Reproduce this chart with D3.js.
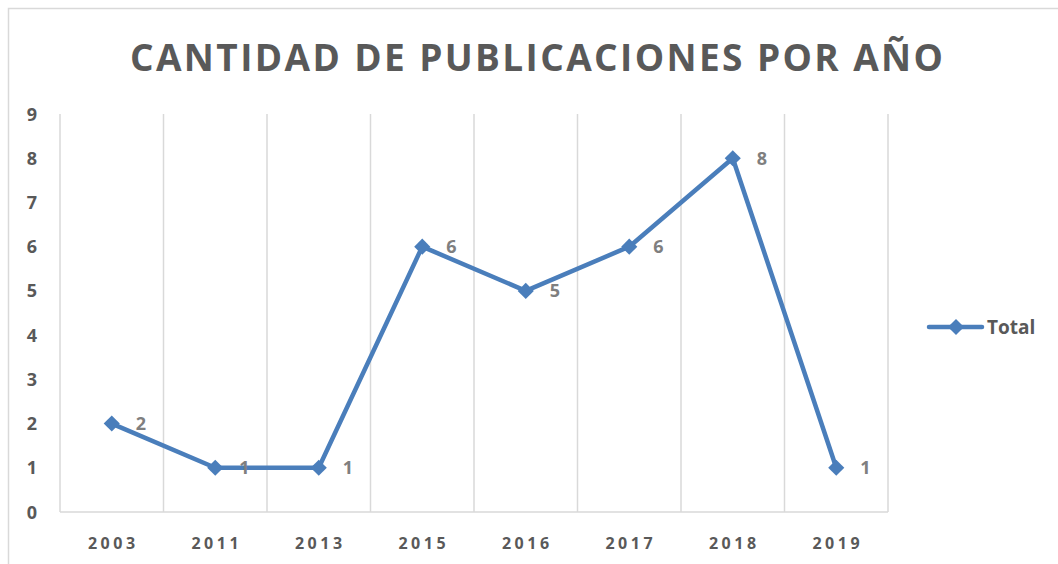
<!DOCTYPE html>
<html>
<head>
<meta charset="utf-8">
<script src="https://cdn.jsdelivr.net/npm/d3@7"></script>
<style>
  body { margin: 0; background: #fff; }
  text { font-family: "Open Sans", "Liberation Sans", sans-serif; font-weight: bold; }
</style>
</head>
<body>
<script>
// chart data
const years = ["2003", "2011", "2013", "2015", "2016", "2017", "2018", "2019"];
const totals = [2, 1, 1, 6, 5, 6, 8, 1];
const yTicks = [0, 1, 2, 3, 4, 5, 6, 7, 8, 9];
const seriesName = "Total";
const title = "CANTIDAD DE PUBLICACIONES POR AÑO";

const width = 1058, height = 564,
      plot = {left: 60, right: 888, top: 114, bottom: 512},
      blue = "#4a7ebb", grey = "#595959";

const svg = d3.select("body").append("svg")
              .attr("width", width)
              .attr("height", height);

// chart frame
svg.append("rect")
   .attr("x", 8.5).attr("y", 8.5)
   .attr("width", width + 20).attr("height", height + 20)
   .attr("fill", "none").attr("stroke", "#d9d9d9").attr("stroke-width", 1.5);

svg.append("text")
   .attr("x", 130).attr("y", 71)
   .attr("textLength", 813).attr("lengthAdjust", "spacing")
   .attr("font-size", 37).attr("fill", grey)
   .text(title);

const xScale = d3.scaleBand().domain(years).range([plot.left, plot.right]),
      yScale = d3.scaleLinear().domain([0, 9]).range([plot.bottom, plot.top]);

// vertical gridlines on category edges
const edges = years.map(y => xScale(y)).concat([plot.right]);
svg.selectAll("line.grid")
   .data(edges)
   .enter()
   .append("line")
   .attr("class", "grid")
   .attr("x1", d => d).attr("x2", d => d)
   .attr("y1", yScale(9)).attr("y2", yScale(0))
   .attr("stroke", "#d9d9d9").attr("stroke-width", 1.5);

svg.append("line")
   .attr("x1", plot.left).attr("x2", plot.right)
   .attr("y1", yScale(0)).attr("y2", yScale(0))
   .attr("stroke", "#d9d9d9").attr("stroke-width", 1.5);

// y labels
svg.selectAll("text.ytick")
   .data(yTicks)
   .enter()
   .append("text")
   .attr("class", "ytick")
   .attr("x", 32).attr("y", d => yScale(d) + 6.5)
   .attr("text-anchor", "middle")
   .attr("font-size", 18).attr("fill", grey)
   .text(d => d);

// x labels
svg.selectAll("text.xtick")
   .data(years)
   .enter()
   .append("text")
   .attr("class", "xtick")
   .attr("x", d => xScale(d) + xScale.bandwidth() / 2 + 1.5)
   .attr("y", 549)
   .attr("text-anchor", "middle")
   .attr("font-size", 16).attr("letter-spacing", 3.5).attr("fill", grey)
   .text(d => d);

// line + markers
const cx = i => xScale(years[i]) + xScale.bandwidth() / 2;
const line = d3.line()
               .x((d, i) => cx(i))
               .y(d => yScale(d));

svg.append("path")
   .datum(totals)
   .attr("d", line)
   .attr("fill", "none").attr("stroke", blue)
   .attr("stroke-width", 4.5).attr("stroke-linejoin", "round");

const diamond = d3.symbol().type(d3.symbolSquare).size(130);
svg.selectAll("path.pt")
   .data(totals)
   .enter()
   .append("path")
   .attr("class", "pt")
   .attr("d", diamond)
   .attr("transform", (d, i) => `translate(${cx(i)},${yScale(d)}) rotate(45)`)
   .attr("fill", blue);

svg.selectAll("text.lbl")
   .data(totals)
   .enter()
   .append("text")
   .attr("class", "lbl")
   .attr("x", (d, i) => cx(i) + 24)
   .attr("y", d => yScale(d) + 6.5)
   .attr("font-size", 18).attr("fill", "#7f7f7f")
   .text(d => d);

// legend
svg.append("line")
   .attr("x1", 929).attr("x2", 982)
   .attr("y1", 327).attr("y2", 327)
   .attr("stroke", blue).attr("stroke-width", 4.5).attr("stroke-linecap", "round");
svg.append("path")
   .attr("d", diamond)
   .attr("transform", "translate(956,327) rotate(45)")
   .attr("fill", blue);
svg.append("text")
   .attr("x", 987).attr("y", 334)
   .attr("font-size", 19).attr("fill", grey)
   .text(seriesName);
</script>
</body>
</html>
